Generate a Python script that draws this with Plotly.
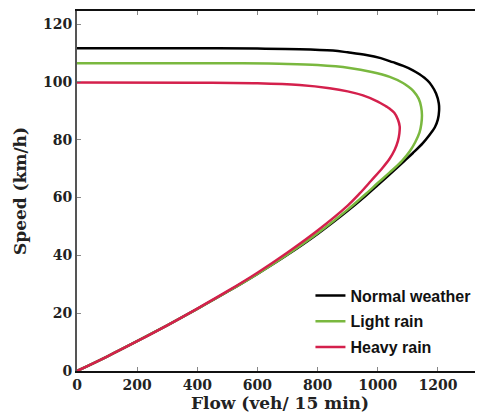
import plotly.graph_objects as go

# Data (flow in veh/15 min, speed in km/h)
normal_flow = [0, 100, 200, 300, 400, 500, 600, 700, 800, 900, 960, 1000, 1050, 1090, 1117, 1150,
               1172, 1190, 1200, 1204, 1203, 1194, 1180, 1166, 1139, 1117, 1085, 1050, 1010, 962,
               900, 851, 740, 600, 400, 200, 0]
normal_speed = [0, 5.0, 10.3, 15.8, 21.5, 27.4, 33.6, 40.2, 47.4, 55.4, 60.6, 64.3, 69.0, 72.8, 75.4,
                78.8, 81.6, 84.3, 87.0, 90.0, 92.6, 96.0, 98.6, 100.4, 102.6, 104.0, 105.5, 106.8,
                108.2, 109.3, 110.2, 110.8, 111.3, 111.5, 111.6, 111.6, 111.6]

light_flow = [0, 100, 200, 300, 400, 500, 600, 700, 800, 900, 960, 1000, 1039, 1080, 1106, 1125,
              1139, 1145, 1147, 1144, 1136, 1118, 1100, 1084, 1040, 980, 906, 800, 700, 550, 300, 0]
light_speed = [0, 5.0, 10.3, 15.8, 21.5, 27.4, 33.6, 40.3, 47.6, 55.8, 61.2, 65.0, 68.6, 72.6, 75.9,
               79.2, 82.5, 85.5, 88.5, 91.5, 94.2, 96.9, 98.5, 99.6, 101.7, 103.4, 104.8, 105.8,
               106.2, 106.4, 106.4, 106.4]

heavy_flow = [0, 100, 200, 300, 400, 500, 600, 700, 800, 900, 940, 978, 1017, 1040, 1056, 1067, 1072,
              1073, 1067, 1055, 1040, 1028, 1000, 951, 900, 840, 740, 600, 400, 0]
heavy_speed = [0, 5.0, 10.3, 15.8, 21.6, 27.6, 34.0, 41.0, 48.6, 57.2, 61.4, 65.8, 70.4, 73.5, 76.4,
               79.5, 82.2, 84.6, 87.0, 89.3, 90.7, 91.5, 93.2, 95.3, 96.7, 97.8, 98.9, 99.5, 99.7, 99.8]

x_ticks = [0, 200, 400, 600, 800, 1000, 1200]
y_ticks = [0, 20, 40, 60, 80, 100, 120]

series = [
    ("Normal weather", normal_flow, normal_speed, "#000000"),
    ("Light rain", light_flow, light_speed, "#7ab83f"),
    ("Heavy rain", heavy_flow, heavy_speed, "#d4204c"),
]

fig = go.Figure()
for i, (name, fx, sy, col) in enumerate(series):
    fig.add_trace(go.Scatter(
        x=fx, y=sy, mode="lines", name=name, legendgroup=str(i),
        line=dict(color=col, width=2.5, shape="spline", smoothing=1.0),
    ))

serif = "DejaVu Serif"
# the page body adds an 8px offset, so margins are reduced accordingly
fig.update_layout(
    width=483, height=419,
    margin=dict(l=69, r=8, t=3, b=56),
    paper_bgcolor="white", plot_bgcolor="white",
    showlegend=True,
    legend=dict(
        x=0.575, y=0.257, xanchor="left", yanchor="top",
        bgcolor="rgba(0,0,0,0)", borderwidth=0,
        font=dict(family="Liberation Sans", size=16, color="#111", weight="bold"),
        tracegroupgap=2, itemwidth=30,
    ),
    xaxis=dict(
        range=[0, 1350], tickvals=x_ticks, ticktext=[str(v) for v in x_ticks],
        showgrid=False, zeroline=False, automargin=False,
        showline=True, linecolor="#111", linewidth=2, mirror="ticks",
        ticks="inside", ticklen=4, tickcolor="#888", tickwidth=1,
        tickfont=dict(family=serif, size=14, color="#222", weight="bold"),
        title=dict(text="<b>Flow (veh/ 15 min)</b>", standoff=0,
                   font=dict(family=serif, size=17, color="#222")),
    ),
    yaxis=dict(
        range=[0, 124.5], tickvals=y_ticks, ticktext=[str(v) for v in y_ticks],
        showgrid=False, zeroline=False, automargin=False,
        showline=True, linecolor="#555", linewidth=2,
        ticks="inside", ticklen=4, tickcolor="#888", tickwidth=1,
        tickfont=dict(family=serif, size=14, color="#222", weight="bold"),
        title=dict(text="<b>Speed (km/h)</b>", standoff=12,
                   font=dict(family=serif, size=17, color="#222")),
    ),
)

fig.write_html("out.html")
